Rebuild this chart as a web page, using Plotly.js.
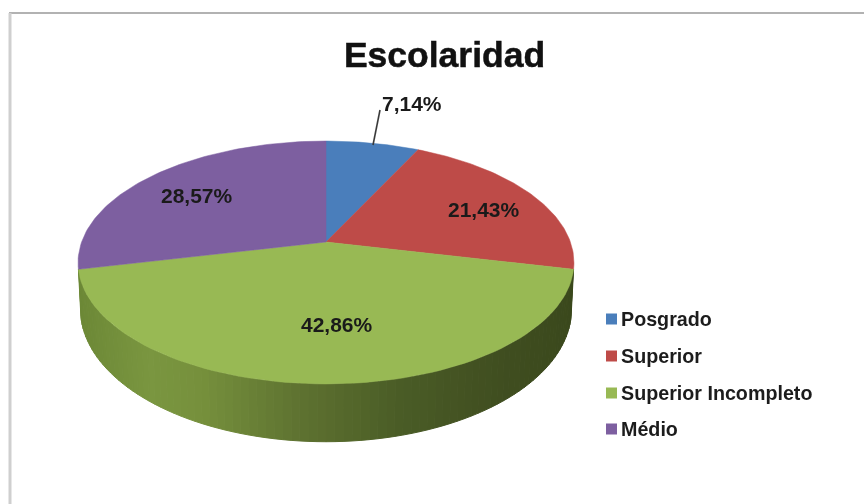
<!DOCTYPE html>
<html>
<head>
<meta charset="utf-8">
<script src="https://cdn.plot.ly/plotly-3.0.1.min.js"></script>
<style>
html,body{margin:0;padding:0;background:#fff;}
#chart{width:864px;height:504px;filter:blur(0.45px);}
#chart .gtitle{stroke:#111111;stroke-width:0.5px;}
</style>
</head>
<body>
<div id="chart"></div>
<script>
// ---- data ----
var titleText = 'Escolaridad';
var categories = ['Posgrado', 'Superior', 'Superior Incompleto', 'Médio'];
var values = [7.14, 21.43, 42.86, 28.57];
var colors = ['#4a7ebb', '#be4b48', '#98b954', '#7d5fa0'];
var labelX = [411.5, 484, 337, 197];
var labelY = [103, 209, 324, 195];
var legendY = [319, 356, 393, 429];
var shadeX = [78, 150, 200, 300, 400, 500, 575];
var shadeR = [108, 122, 118, 94, 74, 64, 58];
var shadeG = [136, 150, 144, 114, 92, 78, 72];
var shadeB = [54, 64, 60, 48, 38, 32, 28];

// ---- perspective disc projection, clockwise from 12 o'clock ----
var cx = 326, cy = 242, a = 244.4, b = 118, k = 0.1687;
function project(deg, scaleX, scaleY, dy) {
  var t = deg * Math.PI / 180, X = Math.sin(t), Y = Math.cos(t), w = 1 + k * Y;
  return [cx + scaleX * a * X / w, cy + dy - scaleY * b * Y / w];
}
function lerpShade(x) {
  var i = 0;
  while (i < shadeX.length - 2 && x > shadeX[i + 1]) i++;
  var f = Math.max(0, Math.min(1, (x - shadeX[i]) / (shadeX[i + 1] - shadeX[i])));
  function m(arr) { return Math.round(arr[i] + (arr[i + 1] - arr[i]) * f); }
  return 'rgb(' + m(shadeR) + ',' + m(shadeG) + ',' + m(shadeB) + ')';
}

var total = values.reduce(function (s, v) { return s + v; }, 0);
var starts = [], ends = [], acc = 0;
values.forEach(function (v) {
  starts.push(acc / total * 360);
  acc += v;
  ends.push(acc / total * 360);
});

var traces = [];

// side wall of the largest (front) slice
var frontStart = starts[2], frontEnd = ends[2], steps = 90;
for (var i = 0; i < steps; i++) {
  var t0 = frontStart + (frontEnd - frontStart) * i / steps;
  var t1 = frontStart + (frontEnd - frontStart) * (i + 1) / steps;
  var p0 = project(t0, 1, 1, 0), p1 = project(t1, 1, 1, 0);
  var q0 = project(t0, 0.99, 1.09, 45), q1 = project(t1, 0.99, 1.09, 45);
  var col = lerpShade((p0[0] + p1[0]) / 2);
  traces.push({
    type: 'scatter', mode: 'lines', fill: 'toself', fillcolor: col,
    x: [p0[0], p1[0], q1[0], q0[0], p0[0]],
    y: [p0[1], p1[1], q1[1], q0[1], p0[1]],
    line: { color: col, width: 1 }, hoverinfo: 'skip', showlegend: false
  });
}

// top faces
categories.forEach(function (name, idx) {
  var xs = [cx], ys = [cy], n = 80;
  for (var j = 0; j <= n; j++) {
    var p = project(starts[idx] + (ends[idx] - starts[idx]) * j / n, 1, 1, 0);
    xs.push(p[0]); ys.push(p[1]);
  }
  xs.push(cx); ys.push(cy);
  traces.push({
    type: 'scatter', mode: 'lines', fill: 'toself', fillcolor: colors[idx],
    x: xs, y: ys, name: name,
    line: { color: colors[idx], width: 0.5 }, hoverinfo: 'name', showlegend: false
  });
});

// leader line of the smallest slice
traces.push({
  type: 'scatter', mode: 'lines', x: [380, 373], y: [110, 145],
  line: { color: '#3a3a3a', width: 1.6 }, hoverinfo: 'skip', showlegend: false
});

// legend swatches
traces.push({
  type: 'scatter', mode: 'markers',
  x: categories.map(function () { return 611.5; }), y: legendY,
  marker: { symbol: 'square', size: 11, color: colors, line: { width: 0 } },
  hoverinfo: 'skip', showlegend: false
});

var annotations = [];
values.forEach(function (v, idx) {
  annotations.push({
    x: labelX[idx], y: labelY[idx], xref: 'x', yref: 'y', showarrow: false,
    text: '<b>' + v.toFixed(2).replace('.', ',') + '%</b>',
    font: { family: 'Liberation Sans, Arial, sans-serif', size: 21, color: '#1a1a1a' }
  });
});
categories.forEach(function (name, idx) {
  annotations.push({
    x: 619, y: legendY[idx], xref: 'x', yref: 'y', xanchor: 'left', showarrow: false,
    text: '<b>' + name + '</b>',
    font: { family: 'Liberation Sans, Arial, sans-serif', size: 19.7, color: '#1c1c1c' }
  });
});

var layout = {
  width: 864, height: 504, autosize: false,
  margin: { l: 0, r: 0, t: 0, b: 0, pad: 0 },
  paper_bgcolor: '#ffffff', plot_bgcolor: '#ffffff',
  showlegend: false,
  title: {
    text: '<b>' + titleText + '</b>', x: 0.5145, xanchor: 'center', y: 0.892, yanchor: 'middle',
    font: { family: 'Liberation Sans, Arial, sans-serif', size: 35.5, color: '#111111' }
  },
  xaxis: { range: [0, 864], visible: false, fixedrange: true },
  yaxis: { range: [504, 0], visible: false, fixedrange: true },
  shapes: [
    { type: 'line', xref: 'x', yref: 'y', x0: 9, x1: 864, y0: 13, y1: 13, line: { color: '#b2b2b2', width: 2 } },
    { type: 'line', xref: 'x', yref: 'y', x0: 10, x1: 10, y0: 13, y1: 504, line: { color: '#cfcfcf', width: 3 } }
  ],
  annotations: annotations
};

Plotly.newPlot('chart', traces, layout, { displayModeBar: false, staticPlot: true });
</script>
</body>
</html>
